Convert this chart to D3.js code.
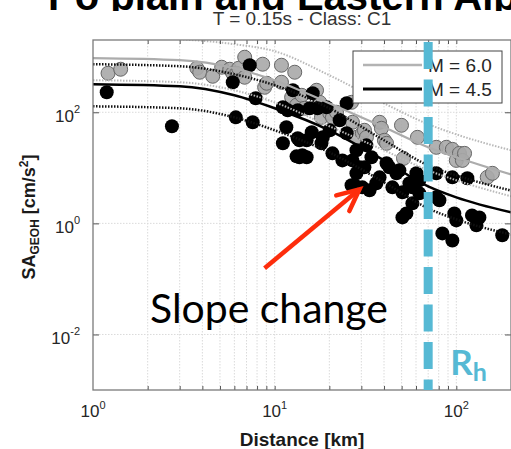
<!DOCTYPE html>
<html>
<head>
<meta charset="utf-8">
<script src="https://cdn.jsdelivr.net/npm/d3@7"></script>
<style>
  body { margin: 0; background: #fff; }
  svg { display: block; }
</style>
</head>
<body>
<svg></svg>
<script>
// model curves at these distances (km)
const curveDist = [1, 3, 6, 10, 20, 40, 70, 100, 200];
const m60Upper = [2340, 2070, 1680, 1257, 464, 145, 61, 40, 20.7];
const m60Median = [940, 865, 621, 377, 145, 53.7, 23.4, 15.5, 7.6];
const m60Lower = [377, 347, 249, 151, 56, 20.7, 9.0, 5.96, 3.07];
const m45Upper = [733, 674, 484, 306, 118, 31.3, 11.1, 7.3, 3.9];
const m45Median = [320, 294, 202, 118, 47.4, 13.6, 4.64, 2.94, 1.58];
const m45Lower = [128, 118, 81, 47.4, 19.0, 5.48, 1.86, 1.18, 0.63];

// recordings [distance km, SA cm/s^2]
const m60Points = [
  [1.21,504],[1.42,595],[3.73,621],[3.87,526],[4.56,445],[5.11,647],[5.66,595],[5.88,504],
  [6.18,504],[6.34,621],[6.84,979],[6.84,427],[8.59,733],[8.81,282],[9.04,333],[10.9,703],
  [10.9,347],[12.4,186],[12.9,526],[13.2,134],[14.1,202],[14.6,118],[17.0,249],[17.7,151],
  [18.1,81],[20.1,96],[20.8,81],[21.9,100],[26.5,151],[26.8,66],[28.2,35.4],[30.4,41.8],
  [31.2,47.4],[32.0,35.4],[37.8,66],[38.7,51.5],[40.2,31.3],[41.3,27.6],[49.9,58.3],[51.2,14.8],
  [61.1,35.4],[77.6,23.4],[88.1,23.4],[95.1,21.5],[100,13.6],[104,18.2],[108,13.6],[111,18.2],
  [148,6.74],[158,7.96]
];
const m45Points = [
  [1.19,229],[2.72,56],[7.29,703],[5.88,347],[7.86,179],[6.11,81],[7.57,66],[11.8,109],
  [11.6,53.7],[11.1,27.6],[13.2,16.1],[13.4,34.0],[12.6,249],[16.2,220],[17.2,118],[11.1,123],
  [13.4,109],[15.6,118],[19.3,123],[24.9,145],[13.7,31.3],[16.0,43.6],[18.1,27.6],[20.1,47.4],
  [22.8,71.8],[24.9,41.8],[15.0,31.3],[18.4,35.4],[13.7,15.5],[15.0,15.5],[23.6,13.6],[28.2,20.7],
  [29.3,10.2],[34.1,15.5],[26.5,4.84],[30.4,4.45],[37.8,6.74],[42.8,10.2],[48.6,9.0],[55.2,5.26],
  [62.6,5.96],[77.6,7.96],[95.1,6.74],[115,6.47],[62.6,3.47],[14.2,16.8],[20.8,18.2],[26.8,13.6],
  [28.2,7.96],[27.5,4.84],[31.2,10.2],[33.3,3.93],[32.0,25.4],[41.3,12.1],[46.8,7.96],[36.3,5.26],
  [44.5,4.45],[50.5,3.62],[57.3,4.45],[57.3,2.29],[50.5,1.28],[60.3,7.96],[80.7,2.60],[97.5,1.51],
  [100,1.13],[122,1.39],[129,0.92],[83.8,0.66],[95.1,0.49],[179,0.61],[134,1.28],[77.6,2.94],[53.1,1.51]
];

const xTicks = [1, 10, 100];
const xTickExp = ["0", "1", "2"];
const yTicks = [0.01, 1, 100];
const yTickExp = ["-2", "0", "2"];
const legendLabels = ["M = 6.0", "M = 4.5"];
const rh = 70; // km

const width = 511, height = 449;
const mLeft = 93, mRight = 511, mTop = 40, mBottom = 390;
const axisFont = "'Liberation Sans', Arial, sans-serif";

const svg = d3.select("svg").attr("width", width).attr("height", height);

const xScale = d3.scaleLog().domain([1, 200]).range([mLeft, mRight]);
const yScale = d3.scaleLog().domain([1e-3, 2e3]).range([mBottom, mTop]);

// slide title, only its lower edge shows above the figure
svg.append("text")
  .attr("x", 48).attr("y", 10)
  .style("font-family", axisFont).style("font-weight", "bold").style("font-size", "40px")
  .text("Po plain and Eastern Alps");
svg.append("rect").attr("x", 0).attr("y", 11).attr("width", width).attr("height", height)
  .attr("fill", "#fff");

svg.append("text")
  .attr("x", 302).attr("y", 25).attr("text-anchor", "middle")
  .style("font-family", axisFont).style("font-size", "19px").attr("fill", "#333")
  .text("T = 0.15s - Class: C1");

// grid
const minorX = [];
for (let p = 1; p <= 100; p *= 10)
  for (let k = 1; k <= 9; k++) if (k * p > 1 && k * p < 200) minorX.push(k * p);

svg.append("g").selectAll("line").data(minorX).enter().append("line")
  .attr("x1", d => xScale(d)).attr("x2", d => xScale(d))
  .attr("y1", mTop).attr("y2", mBottom)
  .attr("stroke", "#dadada").attr("stroke-dasharray", "1.5,1.5");
svg.append("g").selectAll("line").data(yTicks).enter().append("line")
  .attr("x1", mLeft).attr("x2", mRight)
  .attr("y1", d => yScale(d)).attr("y2", d => yScale(d))
  .attr("stroke", "#dadada").attr("stroke-dasharray", "1.5,1.5");

svg.append("clipPath").attr("id", "plot")
  .append("rect").attr("x", mLeft).attr("y", mTop)
  .attr("width", mRight - mLeft).attr("height", mBottom - mTop);

const plot = svg.append("g").attr("clip-path", "url(#plot)");

// scatter
plot.append("g").selectAll("circle").data(m60Points).enter().append("circle")
  .attr("cx", d => xScale(d[0])).attr("cy", d => yScale(d[1])).attr("r", 7)
  .attr("fill", "#a9a9a9").attr("fill-opacity", 0.9)
  .attr("stroke", "#666").attr("stroke-width", 1);
plot.append("g").selectAll("circle").data(m45Points).enter().append("circle")
  .attr("cx", d => xScale(d[0])).attr("cy", d => yScale(d[1])).attr("r", 7)
  .attr("fill", "#000");

// curves
const line = d3.line()
  .x(d => xScale(d[0])).y(d => yScale(d[1]))
  .curve(d3.curveMonotoneX);
const curves = [
  { v: m60Upper, c: "#b9b9b9", w: 2, dash: "1.5,1.5" },
  { v: m60Lower, c: "#b9b9b9", w: 2, dash: "1.5,1.5" },
  { v: m60Median, c: "#acacac", w: 2.2, dash: null },
  { v: m45Upper, c: "#111", w: 2.5, dash: "1.5,1.5" },
  { v: m45Lower, c: "#111", w: 2.5, dash: "1.5,1.5" },
  { v: m45Median, c: "#000", w: 2.5, dash: null }
];
curves.forEach(s => {
  plot.append("path")
    .datum(curveDist.map((d, i) => [d, s.v[i]]))
    .attr("d", line).attr("fill", "none")
    .attr("stroke", s.c).attr("stroke-width", s.w)
    .attr("stroke-dasharray", s.dash);
});

// axes (tick marks only, labels drawn below)
svg.append("g").attr("transform", `translate(0,${mBottom})`)
  .call(d3.axisBottom(xScale).tickValues(minorX).tickSize(-4).tickFormat(""));
svg.append("g").attr("transform", `translate(0,${mTop})`)
  .call(d3.axisTop(xScale).tickValues(minorX).tickSize(-4).tickFormat(""));
svg.append("g").attr("transform", `translate(${mLeft},0)`)
  .call(d3.axisLeft(yScale).tickValues(yTicks).tickSize(-6).tickFormat(""));
svg.append("g").attr("transform", `translate(${mRight},0)`)
  .call(d3.axisRight(yScale).tickValues(yTicks).tickSize(-6).tickFormat(""));
svg.selectAll(".domain").remove();
svg.selectAll(".tick line").attr("stroke", "#555");
svg.selectAll(".tick text").remove();

svg.append("rect").attr("x", mLeft).attr("y", mTop)
  .attr("width", mRight - mLeft).attr("height", mBottom - mTop)
  .attr("fill", "none").attr("stroke", "#7a7a7a").attr("stroke-width", 1.3);

// tick labels
const xl = svg.append("g").selectAll("text").data(xTicks).enter().append("text")
  .attr("x", d => xScale(d)).attr("y", 417).attr("text-anchor", "middle")
  .style("font-family", axisFont).style("font-size", "17px").attr("fill", "#262626");
xl.append("tspan").text("10");
xl.append("tspan").attr("dy", -8).style("font-size", "11px").text((d, i) => xTickExp[i]);

const yl = svg.append("g").selectAll("text").data(yTicks).enter().append("text")
  .attr("x", 80).attr("y", d => yScale(d) + 10).attr("text-anchor", "end")
  .style("font-family", axisFont).style("font-size", "17px").attr("fill", "#262626");
yl.append("tspan").text("10");
yl.append("tspan").attr("dy", -9).style("font-size", "11px").text((d, i) => yTickExp[i]);

// axis titles
svg.append("text")
  .attr("x", 302).attr("y", 446).attr("text-anchor", "middle")
  .style("font-family", axisFont).style("font-weight", "bold").style("font-size", "19px")
  .attr("fill", "#1a1a1a")
  .text("Distance [km]");

const yt = svg.append("text")
  .attr("transform", "translate(35,217) rotate(-90)").attr("text-anchor", "middle")
  .style("font-family", axisFont).style("font-weight", "bold").style("font-size", "18px")
  .attr("fill", "#1a1a1a");
yt.append("tspan").text("SA");
yt.append("tspan").attr("dy", 4).style("font-size", "12px").text("GEOH");
yt.append("tspan").attr("dy", -4).text(" [cm/s");
yt.append("tspan").attr("dy", -7).style("font-size", "12px").text("2");
yt.append("tspan").attr("dy", 7).text("]");

// legend
const legend = svg.append("g");
legend.append("rect").attr("x", 353).attr("y", 51).attr("width", 149).attr("height", 52)
  .attr("fill", "#fff").attr("stroke", "#444").attr("stroke-width", 1);
const legendStyle = [{ c: "#b3b3b3", w: 2.5, y: 65 }, { c: "#000", w: 3, y: 89 }];
legendStyle.forEach((s, i) => {
  legend.append("line").attr("x1", 363).attr("x2", 422).attr("y1", s.y).attr("y2", s.y)
    .attr("stroke", s.c).attr("stroke-width", s.w);
  legend.append("text").attr("x", 428).attr("y", s.y + 7)
    .style("font-family", axisFont).style("font-size", "19px").attr("fill", "#262626")
    .text(legendLabels[i]);
});

// annotation
const tip = [xScale(29.3), yScale(4.1)];
const tail = [xScale(8.8), yScale(0.155)];
const red = "#fd2d0c";
svg.append("line").attr("x1", tail[0]).attr("y1", tail[1]).attr("x2", tip[0]).attr("y2", tip[1])
  .attr("stroke", red).attr("stroke-width", 4.5);
const ang = Math.atan2(tail[1] - tip[1], tail[0] - tip[0]);
const head = [-0.44, 0.44].map(a => [tip[0] + 24 * Math.cos(ang + a), tip[1] + 24 * Math.sin(ang + a)]);
svg.append("path")
  .attr("d", `M${head[0]}L${tip}L${head[1]}`)
  .attr("fill", "none").attr("stroke", red).attr("stroke-width", 4.5)
  .attr("stroke-linejoin", "miter").attr("stroke-linecap", "round");

const slope = svg.append("text")
  .attr("x", xScale(2.06)).attr("y", yScale(0.0164))
  .style("font-family", "Lato, 'Open Sans', sans-serif").style("font-size", "40px")
  .attr("fill", "#000").text("Slope change");
const sl = slope.node().getComputedTextLength();
slope.style("font-size", (40 * 238 / sl) + "px");

// R_h line
const cyan = "#56b9d4";
svg.append("line")
  .attr("x1", xScale(rh)).attr("x2", xScale(rh)).attr("y1", 42).attr("y2", mBottom)
  .attr("stroke", cyan).attr("stroke-width", 9).attr("stroke-dasharray", "27,10.5");
const rt = svg.append("text")
  .attr("x", xScale(rh) + 22).attr("y", 375)
  .style("font-family", "Lato, 'Open Sans', sans-serif").style("font-weight", "bold")
  .style("font-size", "35px").attr("fill", cyan);
rt.append("tspan").text("R");
rt.append("tspan").attr("dy", 6).style("font-size", "25px").text("h");
</script>
</body>
</html>
